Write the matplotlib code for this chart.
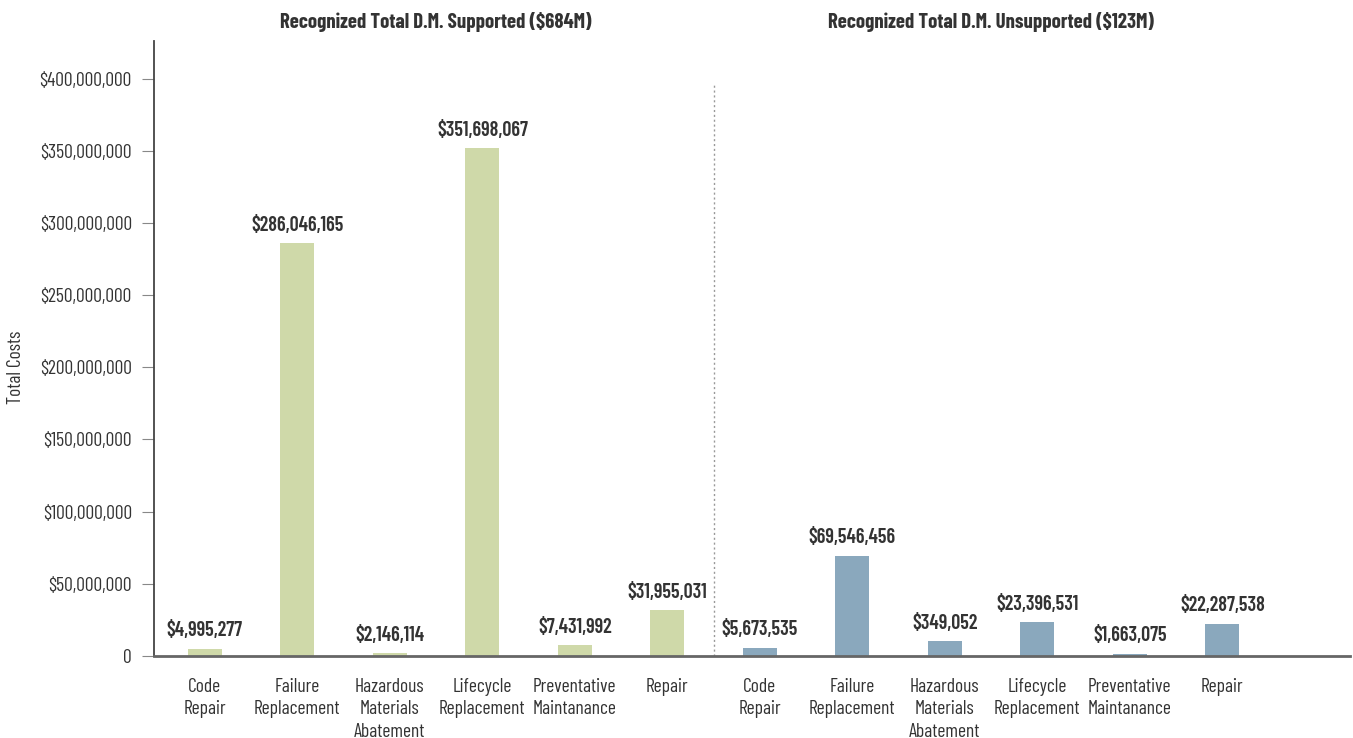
import matplotlib.pyplot as plt
from matplotlib.ticker import FuncFormatter

plt.rcParams['font.family'] = ['Barlow Condensed', 'DejaVu Sans']

categories = ["Code\nRepair", "Failure\nReplacement", "Hazardous\nMaterials\nAbatement",
              "Lifecycle\nReplacement", "Preventative\nMaintanance", "Repair"]

# bar heights
supported = [4995277, 286046165, 2146114, 351698067, 7431992, 31955031]
unsupported = [5673535, 69546456, 10400000, 23396531, 1663075, 22287538]

# value labels as printed on the chart
supported_labels = ["$4,995,277", "$286,046,165", "$2,146,114", "$351,698,067", "$7,431,992", "$31,955,031"]
unsupported_labels = ["$5,673,535", "$69,546,456", "$349,052", "$23,396,531", "$1,663,075", "$22,287,538"]

titles = ["Recognized Total D.M. Supported ($684M)", "Recognized Total D.M. Unsupported ($123M)"]

green = '#cfd9a9'
blue = '#8aa8bd'
text_col = '#333333'

fig = plt.figure(figsize=(13.53, 7.38), dpi=100)
ax = fig.add_axes([154 / 1353, 1 - 656 / 738, 1 - 154 / 1353 - 3 / 1353, (656 - 41) / 738])

n = len(categories)
x_sup = list(range(n))
x_uns = [i + n for i in range(n)]

ax.bar(x_sup, supported, width=0.37, color=green)
ax.bar(x_uns, unsupported, width=0.37, color=blue)

for xs, vals, labs in [(x_sup, supported, supported_labels), (x_uns, unsupported, unsupported_labels)]:
    for x, v, lab in zip(xs, vals, labs):
        ax.annotate(lab, (x, v), xytext=(0, 6), textcoords='offset points',
                    ha='center', va='bottom', fontsize=14.5, fontweight=600, color=text_col)

ax.set_xlim(-0.55, 12.38)
ax.set_ylim(0, 426e6)
ax.set_yticks(range(0, 400000001, 50000000))
ax.yaxis.set_major_formatter(FuncFormatter(lambda v, p: '0' if v == 0 else f'${v:,.0f}'))
ax.tick_params(axis='y', length=9, width=0.8, color='#888888', labelsize=14, labelcolor=text_col, pad=7)

ax.set_xticks(x_sup + x_uns)
ax.set_xticklabels(categories * 2, fontsize=14, color=text_col, linespacing=1.3)
ax.tick_params(axis='x', length=0, pad=16)

fig.text(16 / 1353, 1 - 367 / 738, "Total Costs", rotation=90, ha='center', va='center',
         fontsize=14, color=text_col)

for s in ['top', 'right']:
    ax.spines[s].set_visible(False)
ax.spines['left'].set_color('#444444')
ax.spines['left'].set_linewidth(1.3)
ax.spines['bottom'].set_color('#666666')
ax.spines['bottom'].set_linewidth(2)

# divider between the two groups
ax.plot([n - 0.5, n - 0.5], [0, 396e6], linestyle=(0, (1.5, 2)), color='#999999', linewidth=1)

for cx, t in zip([2.5, 8.5], titles):
    ax.text(cx, 1.031, t, transform=ax.get_xaxis_transform(), ha='center', va='center',
            fontsize=15, fontweight='bold', color=text_col)

fig.savefig('out.png', dpi=100)
